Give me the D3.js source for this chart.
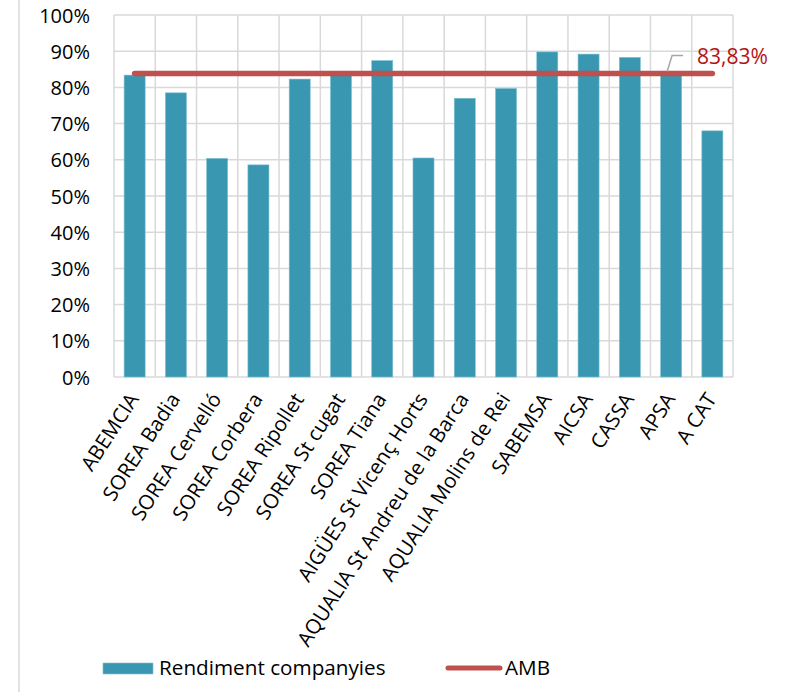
<!DOCTYPE html>
<html><head><meta charset="utf-8">
<script src="https://cdn.jsdelivr.net/npm/d3@7"></script>
<style>
body{margin:0;background:#fff;}
svg text{font-family:"Open Sans",sans-serif;fill:#000;}
</style></head>
<body><svg id="c" width="796" height="692"></svg>
<script>
const categories = ["ABEMCIA","SOREA Badia","SOREA Cervelló","SOREA Corbera","SOREA Ripollet","SOREA St cugat","SOREA Tiana","AIGÜES St Vicenç Horts","AQUALIA St Andreu de la Barca","AQUALIA Molins de Rei","SABEMSA","AICSA","CASSA","APSA","A CAT"];
const rendiment = [0.834,0.785,0.604,0.586,0.823,0.833,0.874,0.605,0.770,0.797,0.898,0.892,0.883,0.843,0.680];
const amb = 0.8383;
const ambLabel = "83,83%";
const yTicks = [0,0.1,0.2,0.3,0.4,0.5,0.6,0.7,0.8,0.9,1.0];
const seriesNames = ["Rendiment companyies","AMB"];

const svg = d3.select("#c");
const L=114, R=733, T=15, B=377;
const x = d3.scaleBand().domain(categories).range([L,R]).paddingInner(0).paddingOuter(0);
const y = d3.scaleLinear().domain([0,1]).range([B,T]);
const grid="#d9d9d9";

// left frame line
svg.append("line").attr("x1",19).attr("x2",19).attr("y1",0).attr("y2",692).attr("stroke",grid).attr("stroke-width",1.5);

// horizontal grid
svg.append("g").selectAll("line").data(yTicks).join("line")
 .attr("x1",L).attr("x2",R).attr("y1",d=>y(d)).attr("y2",d=>y(d))
 .attr("stroke",grid).attr("stroke-width",1.5);
// vertical grid at category boundaries
const bounds = categories.map(c=>x(c)).concat([x(categories[categories.length-1])+x.bandwidth()]);
svg.append("g").selectAll("line").data(bounds).join("line")
 .attr("x1",d=>d).attr("x2",d=>d).attr("y1",T).attr("y2",B)
 .attr("stroke",grid).attr("stroke-width",1.5);

// y labels
const yAxis = d3.axisLeft(y).tickValues(yTicks).tickFormat(d=>Math.round(d*100)+"%").tickSize(0).tickPadding(0);
const ga = svg.append("g").attr("transform",`translate(${90},0)`).call(yAxis);
ga.select(".domain").remove();
ga.selectAll("text").attr("font-size",20).attr("font-family","Open Sans").attr("fill","#000").attr("dy","0.35em");

// bars
const bw = x.bandwidth()*0.51;
svg.append("g").selectAll("rect").data(rendiment).join("rect")
 .attr("x",(d,i)=>x(categories[i])+x.bandwidth()/2-bw/2)
 .attr("width",bw)
 .attr("y",d=>y(d)).attr("height",d=>B-y(d))
 .attr("fill","#3a97b1").attr("stroke","#7fc0d2").attr("stroke-width",0.6);

// x labels
const xl = svg.append("g");
categories.forEach((c)=>{
  const cx = x(c)+x.bandwidth()/2;
  xl.append("text").attr("transform",`translate(${cx+5},${399}) rotate(-57)`)
   .attr("text-anchor","end").attr("font-size",20.5).text(c);
});

// AMB line
const cx0 = x(categories[0])+x.bandwidth()/2;
const cx1 = x(categories[categories.length-1])+x.bandwidth()/2;
svg.append("line").attr("x1",cx0).attr("x2",cx1).attr("y1",y(amb)).attr("y2",y(amb))
 .attr("stroke","#c0504d").attr("stroke-width",5.5).attr("stroke-linecap","round");

// leader + label
const lx = x(categories[13])+x.bandwidth()/2 - 4;
svg.append("polyline").attr("points",`${lx},${y(amb)-2} ${lx+5},${y(amb)-18} ${lx+16},${y(amb)-18}`)
 .attr("fill","none").attr("stroke","#a6a6a6").attr("stroke-width",1.5);
svg.append("text").attr("x",697).attr("y",y(amb)-10).attr("font-size",21).style("fill","#b21414").text(ambLabel);

// legend
svg.append("rect").attr("x",103).attr("y",663).attr("width",50).attr("height",11).attr("fill","#3a97b1").attr("stroke","#7fc0d2").attr("stroke-width",0.6);
svg.append("text").attr("x",159).attr("y",675).attr("font-size",20.7).text(seriesNames[0]);
svg.append("line").attr("x1",448).attr("x2",500).attr("y1",668).attr("y2",668).attr("stroke","#c0504d").attr("stroke-width",5).attr("stroke-linecap","round");
svg.append("text").attr("x",505).attr("y",675).attr("font-size",20.7).text(seriesNames[1]);
</script></body></html>
